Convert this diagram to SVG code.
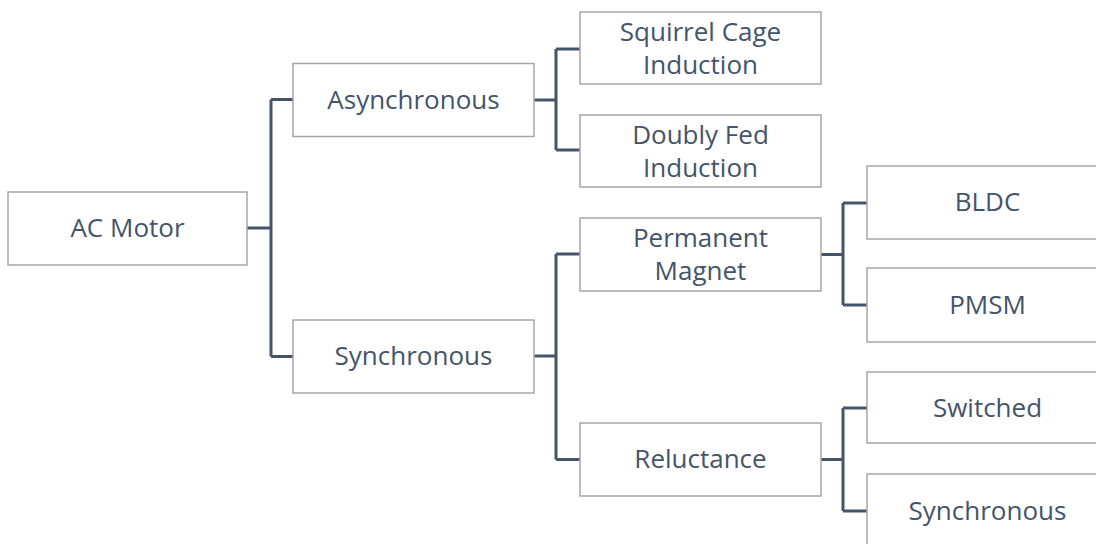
<svg xmlns="http://www.w3.org/2000/svg" width="1096" height="544" viewBox="0 0 1096 544">
<style>
.box{fill:#fff;stroke:#a6a6a6;stroke-width:1.5}
.t{font-family:"Open Sans","Noto Sans",sans-serif;font-size:26px;fill:#44546a;text-anchor:middle;dominant-baseline:central}
.c{fill:none;stroke:#44546a;stroke-width:3}
</style>
<rect width="1096" height="544" fill="#fff"/>
<g id="connectors">
<path class="c" d="M247,228H271M271,99.5V356.5M271,99.5H293M271,356.5H293"/>
<path class="c" d="M534,100H556M556,49V150M556,49H580M556,150H580"/>
<path class="c" d="M534,356H556M556,254V459.5M556,254H580M556,459.5H580"/>
<path class="c" d="M821,254.5H843M843,203V305M843,203H867M843,305H867"/>
<path class="c" d="M821,459.5H843M843,408V511M843,408H867M843,511H867"/>
</g>
<g id="ac-motor"><rect class="box" x="8" y="192" width="239" height="73"/><text class="t" x="127.5" y="226.5">AC Motor</text></g>
<g id="asynchronous"><rect class="box" x="293" y="63.5" width="241" height="73"/><text class="t" x="413.5" y="98.5">Asynchronous</text></g>
<g id="synchronous"><rect class="box" x="293" y="320" width="241" height="73"/><text class="t" x="413.5" y="355">Synchronous</text></g>
<g id="squirrel-cage"><rect class="box" x="580" y="12" width="241" height="72"/><text class="t" x="700.5" y="46.5"><tspan x="700.5" dy="-16">Squirrel Cage</tspan><tspan x="700.5" dy="33">Induction</tspan></text></g>
<g id="doubly-fed"><rect class="box" x="580" y="115" width="241" height="72"/><text class="t" x="700.5" y="149.5"><tspan x="700.5" dy="-16">Doubly Fed</tspan><tspan x="700.5" dy="33">Induction</tspan></text></g>
<g id="permanent-magnet"><rect class="box" x="580" y="218" width="241" height="73"/><text class="t" x="700.5" y="253"><tspan x="700.5" dy="-16">Permanent</tspan><tspan x="700.5" dy="33">Magnet</tspan></text></g>
<g id="reluctance"><rect class="box" x="580" y="423" width="241" height="73"/><text class="t" x="700.5" y="458">Reluctance</text></g>
<g id="bldc"><rect class="box" x="867" y="166" width="241" height="73"/><text class="t" x="987.5" y="201">BLDC</text></g>
<g id="pmsm"><rect class="box" x="867" y="268" width="241" height="74"/><text class="t" x="987.5" y="303.5">PMSM</text></g>
<g id="switched"><rect class="box" x="867" y="372" width="241" height="71"/><text class="t" x="987.5" y="406.5">Switched</text></g>
<g id="synchronous-reluctance"><rect class="box" x="867" y="474" width="241" height="74"/><text class="t" x="987.5" y="509.5">Synchronous</text></g>
</svg>
